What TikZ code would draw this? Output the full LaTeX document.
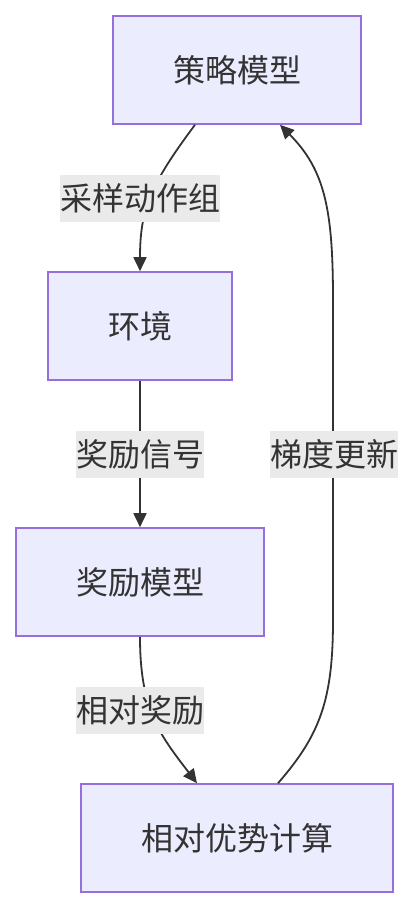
\documentclass[tikz,border=0pt]{standalone}
\usepackage{fontspec}
\setmainfont{Noto Sans CJK SC}
\usetikzlibrary{arrows.meta}
\definecolor{boxfill}{HTML}{ECECFF}
\definecolor{boxline}{HTML}{9370DB}
\definecolor{edgeline}{HTML}{333333}
\definecolor{labelbg}{HTML}{EAEAEA}
\tikzset{
  flowbox/.style={draw=boxline,fill=boxfill,line width=1.6pt,text=edgeline,
    minimum height=108pt,font=\fontsize{32}{36}\selectfont},
  edgelabel/.style={fill=labelbg,text=edgeline,inner xsep=0pt,inner ysep=0pt,
    minimum height=47pt,font=\fontsize{32}{36}\selectfont},
  flowedge/.style={draw=edgeline,line width=1.8pt,-{Triangle[length=14pt,width=13pt]}}
}
\begin{document}
\begin{tikzpicture}[x=1pt,y=-1pt]
            \useasboundingbox (0,0) rectangle (414,908);
            % 四个方框
            \node[flowbox,minimum width=248pt] (policy) at (237,70)  {策略模型};
            \node[flowbox,minimum width=184pt] (env)    at (140,326) {环境};
            \node[flowbox,minimum width=248pt] (reward) at (140,582) {奖励模型};
            \node[flowbox,minimum width=312pt] (adv)    at (237,838) {相对优势计算};
            % 连线
            \draw[flowedge] ([xshift=-42pt]policy.south)
                .. controls (150,185) and (140,210) .. (env.north);
            \draw[flowedge] (env.south) -- (reward.north);
            \draw[flowedge] (reward.south)
                .. controls (140,710) and (160,735) .. ([xshift=-40pt]adv.north);
            \draw[flowedge] ([xshift=41pt]adv.north)
                .. controls (320,735) and (333,700) .. (333,620) -- (333,300)
                .. controls (333,210) and (325,170) .. ([xshift=43pt]policy.south);
            % 连线上的标签
            \node[edgelabel] (l1) at (140,198) {采样动作组};
            \node[edgelabel] (l2) at (140,454) {奖励信号};
            \node[edgelabel] (l3) at (140,710) {相对奖励};
            \node[edgelabel] (l4) at (334,454) {梯度更新};
\end{tikzpicture}
\end{document}
